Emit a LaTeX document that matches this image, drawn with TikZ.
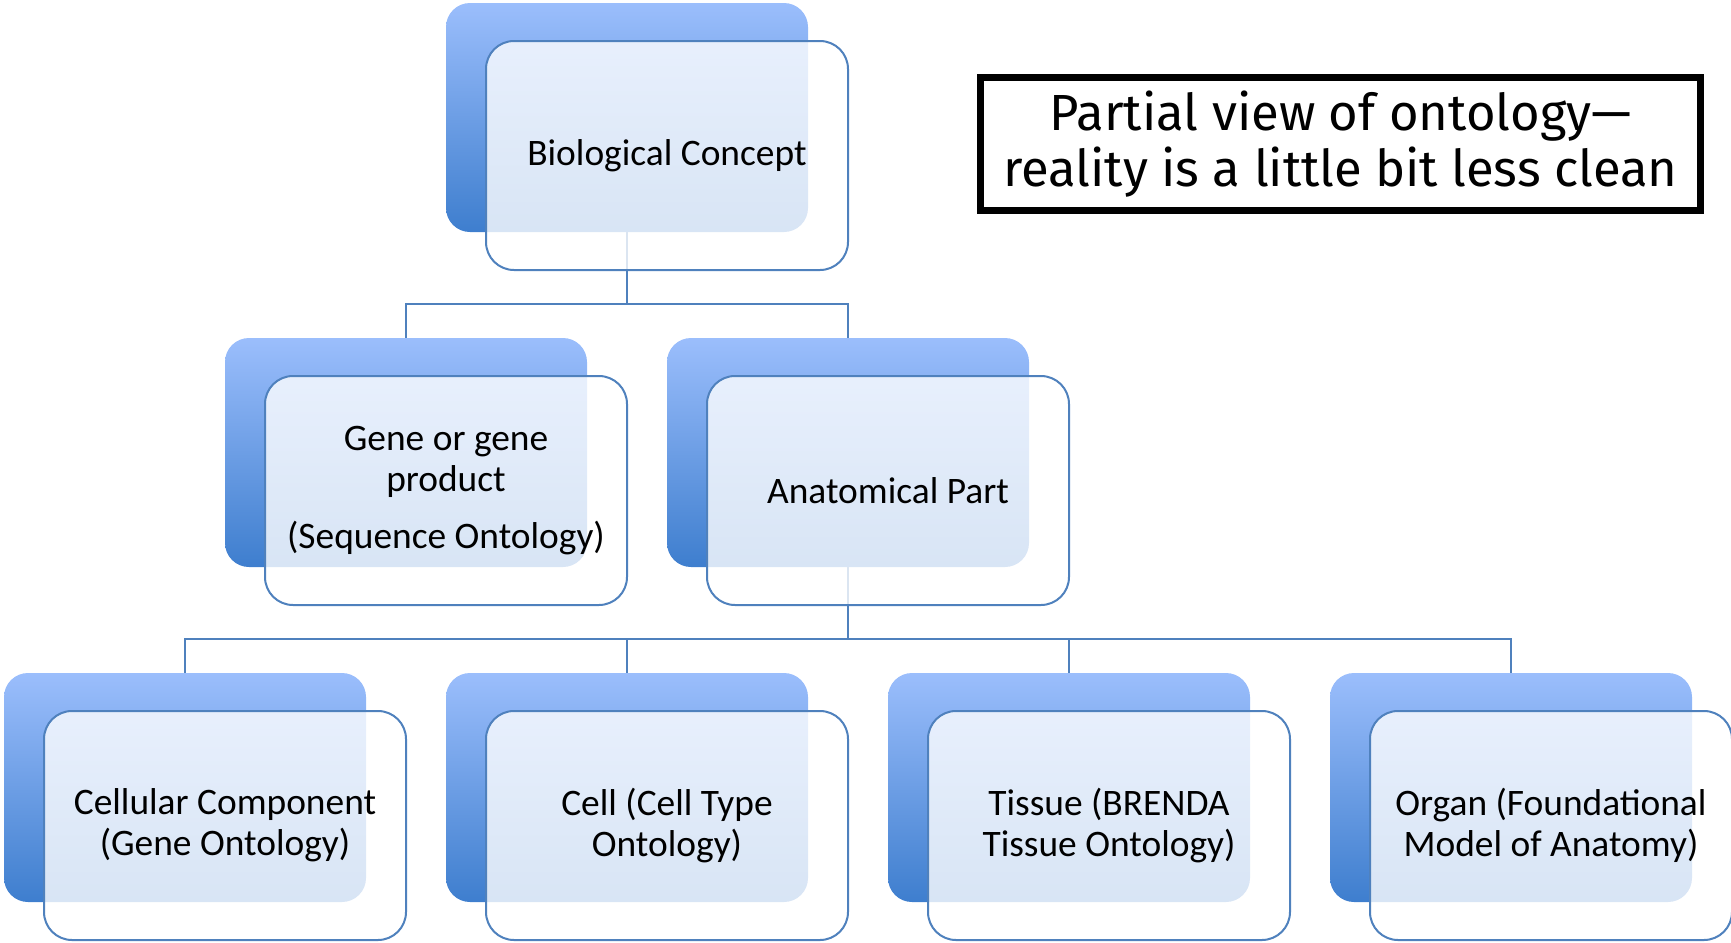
\documentclass[tikz,border=0pt]{standalone}
\usepackage{fontspec}
\setmainfont{Carlito}
\newfontfamily\notefont{Fira Sans}
\usetikzlibrary{backgrounds}
\definecolor{boxtop}{RGB}{155,190,252}
\definecolor{boxbottom}{RGB}{62,126,206}
\definecolor{boxedge}{RGB}{79,129,189}

\begin{document}
\begin{tikzpicture}[x=0.5pt,y=-0.5pt,
        back/.style={rectangle,rounded corners=12pt,minimum width=181pt,minimum height=114.5pt,inner sep=0pt,top color=boxtop,bottom color=boxbottom,draw=none},
        front/.style={rectangle,rounded corners=14pt,minimum width=181pt,minimum height=114.5pt,inner sep=0pt,draw=boxedge,line width=1pt,fill=white,fill opacity=0.8,text opacity=1,align=center,font=\fontsize{18.7}{20.5}\selectfont},
        link/.style={draw=boxedge,line width=1.4pt}]
    \useasboundingbox (0,0) rectangle (1731,943);

    \node[back] (bio) at (627,117.5) {};
    \node[front] (bioF) at ([xshift=20pt,yshift=-19pt]bio.center) {Biological Concept};

    \node[back] (gene) at (406,452.5) {};
    \node[front] (geneF) at ([xshift=20pt,yshift=-19pt]gene.center) {Gene or gene\\product\\[8pt](Sequence Ontology)};
    \node[back] (anat) at (848,452.5) {};
    \node[front] (anatF) at ([xshift=20pt,yshift=-19pt]anat.center) {Anatomical Part};

    \node[back] (comp) at (185,787.5) {};
    \node[front] (compF) at ([xshift=20pt,yshift=-19pt]comp.center) {Cellular Component\\(Gene Ontology)};
    \node[back] (cell) at (627,787.5) {};
    \node[front] (cellF) at ([xshift=20pt,yshift=-19pt]cell.center) {Cell (Cell Type\\Ontology)};
    \node[back] (tissue) at (1069,787.5) {};
    \node[front] (tissueF) at ([xshift=20pt,yshift=-19pt]tissue.center) {Tissue (BRENDA\\Tissue Ontology)};
    \node[back] (organ) at (1511,787.5) {};
    \node[front] (organF) at ([xshift=20pt,yshift=-19pt]organ.center) {Organ (Foundational\\Model of Anatomy)};

    \begin{scope}[on background layer]
        \coordinate (fork1) at (627,304);
        \coordinate (fork2) at (848,639);
        \draw[link] (bio.south) -- (fork1) -| (gene.north);
        \draw[link] (fork1) -| (anat.north);
        \draw[link] (anat.south) -- (fork2) -| (comp.north);
        \foreach \n in {cell,tissue,organ}
            \draw[link] (fork2) -| (\n.north);
    \end{scope}

    \node[draw,line width=3.5pt,minimum width=360pt,minimum height=66.5pt,inner sep=0pt,align=center,font=\notefont\fontsize{25.4}{28}\selectfont] (note) at (1340.5,144) {Partial view of ontology—\\reality is a little bit less clean};
\end{tikzpicture}
\end{document}
